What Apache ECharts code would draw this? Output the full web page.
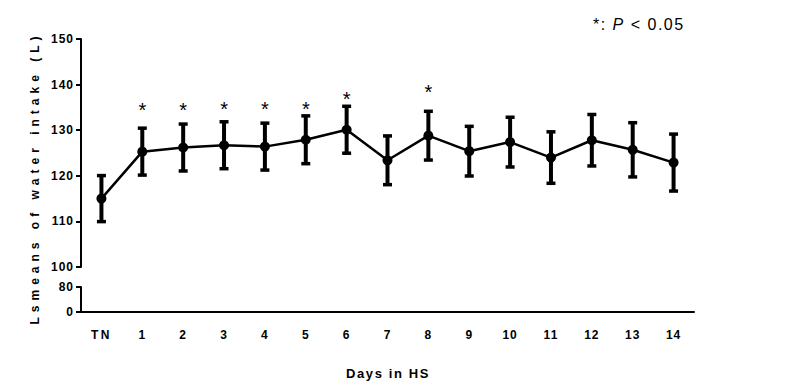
<!DOCTYPE html>
<html>
<head>
<meta charset="utf-8">
<script src="https://cdn.jsdelivr.net/npm/echarts@6/dist/echarts.min.js"></script>
<style>
html,body{margin:0;padding:0;background:#fff;}
#chart{width:796px;height:392px;}
</style>
</head>
<body>
<div id="chart"></div>
<script>
// ---- data ----
const categories = ['TN','1','2','3','4','5','6','7','8','9','10','11','12','13','14'];
const means  = [115.0,125.3,126.2,126.7,126.4,127.9,130.1,123.4,128.8,125.4,127.4,124.0,127.8,125.7,122.9];
const errors = [5.1,5.2,5.2,5.2,5.2,5.3,5.2,5.4,5.4,5.5,5.5,5.7,5.7,6.0,6.3];
const starDays   = ['1','2','3','4','5','6','8'];
const starLevels = [135.5,135.5,135.6,135.6,135.8,138.0,139.4];
const upperTicks = [100,110,120,130,140,150];
const lowerTicks = [0,80];
const yTitle = 'Lsmeans of water intake (L)';
const xTitle = 'Days in HS';

// ---- styling ----
const FONT = '"Liberation Sans", Arial, Helvetica, sans-serif';
const STAR_FONT = 20;

const errData = categories.map((c,i)=>[i, means[i]-errors[i], means[i]+errors[i]]);
const starData = starDays.map((d,i)=>[categories.indexOf(d), starLevels[i]]);

const chart = echarts.init(document.getElementById('chart'), null, {renderer:'svg'});

const GL = 81, GW = 613;
const option = {
  animation:false,
  backgroundColor:'#fff',
  grid:[
    {left:GL, width:GW, top:39, height:228},
    {left:GL, width:GW, top:287, height:25}
  ],
  xAxis:[
    {gridIndex:0, type:'category', data:categories, show:false, boundaryGap:true},
    {gridIndex:1, type:'category', data:categories, boundaryGap:true,
     axisLine:{lineStyle:{color:'#000', width:2}},
     axisTick:{alignWithLabel:true, length:5, lineStyle:{color:'#000', width:2}},
     axisLabel:{color:'#000', fontWeight:'bold', fontSize:12, fontFamily:FONT, margin:17, interval:0}}
  ],
  yAxis:[
    {gridIndex:0, type:'value', min:upperTicks[0], max:upperTicks[upperTicks.length-1], interval:upperTicks[1]-upperTicks[0],
     splitLine:{show:false},
     axisLine:{show:true, lineStyle:{color:'#000', width:2}},
     axisTick:{show:true, length:5, lineStyle:{color:'#000', width:2}},
     axisLabel:{color:'#000', fontWeight:'bold', fontSize:12, fontFamily:FONT, margin:7}},
    {gridIndex:1, type:'value', min:lowerTicks[0], max:lowerTicks[1], interval:lowerTicks[1]-lowerTicks[0],
     splitLine:{show:false},
     axisLine:{show:true, lineStyle:{color:'#000', width:2}},
     axisTick:{show:true, length:5, lineStyle:{color:'#000', width:2}},
     axisLabel:{color:'#000', fontWeight:'bold', fontSize:12, fontFamily:FONT, margin:7}}
  ],
  series:[
    {type:'custom', xAxisIndex:0, yAxisIndex:0, data:errData, encode:{x:0, y:[1,2]},
     renderItem:function(params, api){
       const top = api.coord([api.value(0), api.value(2)]);
       const bot = api.coord([api.value(0), api.value(1)]);
       return {type:'group', children:[
         {type:'rect', shape:{x:top[0]-2, y:top[1], width:4, height:bot[1]-top[1]}, style:{fill:'#000'}},
         {type:'rect', shape:{x:top[0]-4.5, y:top[1]-1.5, width:9, height:3.5}, style:{fill:'#000'}},
         {type:'rect', shape:{x:bot[0]-4.5, y:bot[1]-2, width:9, height:3.5}, style:{fill:'#000'}}
       ]};
     }},
    {type:'line', xAxisIndex:0, yAxisIndex:0, data:means, symbol:'circle', symbolSize:10,
     itemStyle:{color:'#000'}, lineStyle:{color:'#000', width:2.5}, z:3},
    {type:'custom', xAxisIndex:0, yAxisIndex:0, data:starData, encode:{x:0, y:1},
     renderItem:function(params, api){
       const p = api.coord([api.value(0), api.value(1)]);
       return {type:'text', x:p[0], y:p[1] + STAR_FONT*0.24,
         style:{text:'*', fontSize:STAR_FONT, fontFamily:FONT, fill:'#000', align:'center', verticalAlign:'middle'}};
     }}
  ],
  graphic:[
    {type:'text', x:35, y:178, rotation:Math.PI/2,
     style:{text:yTitle, fontSize:12, fontWeight:'bold', fontFamily:FONT, fill:'#000', align:'center', verticalAlign:'middle'}},
    {type:'text', x:388, y:373,
     style:{text:xTitle, fontSize:13, fontWeight:'bold', fontFamily:FONT, fill:'#000', align:'center', verticalAlign:'middle'}},
    {type:'text', x:593, y:24,
     style:{text:'{a|*: }{i|P}{b| < 0.05}', align:'left', verticalAlign:'middle',
       rich:{
         a:{fontSize:16, fontFamily:FONT, fill:'#000', padding:[0,4.5,0,0]},
         i:{fontSize:16, fontFamily:FONT, fontStyle:'italic', fill:'#000', padding:[0,1.5,0,0]},
         b:{fontSize:16, fontFamily:FONT, fill:'#000'}
       }}}
  ]
};
chart.setOption(option);

function spacingFor(s){
  if (s === yTitle) return 5;
  if (s === xTitle) return 1.6;
  if (s === 'TN') return 2.5;
  if (/^\d+$/.test(s)) return 1;
  if (s === '*') return 0;
  return 1.5;
}
function applySpacing(){
  document.querySelectorAll('#chart svg text').forEach(function(t){
    t.setAttribute('letter-spacing', spacingFor(t.textContent.trim()) + 'px');
  });
}
chart.on('finished', applySpacing);
applySpacing();
setTimeout(applySpacing, 50);
</script>
</body>
</html>
